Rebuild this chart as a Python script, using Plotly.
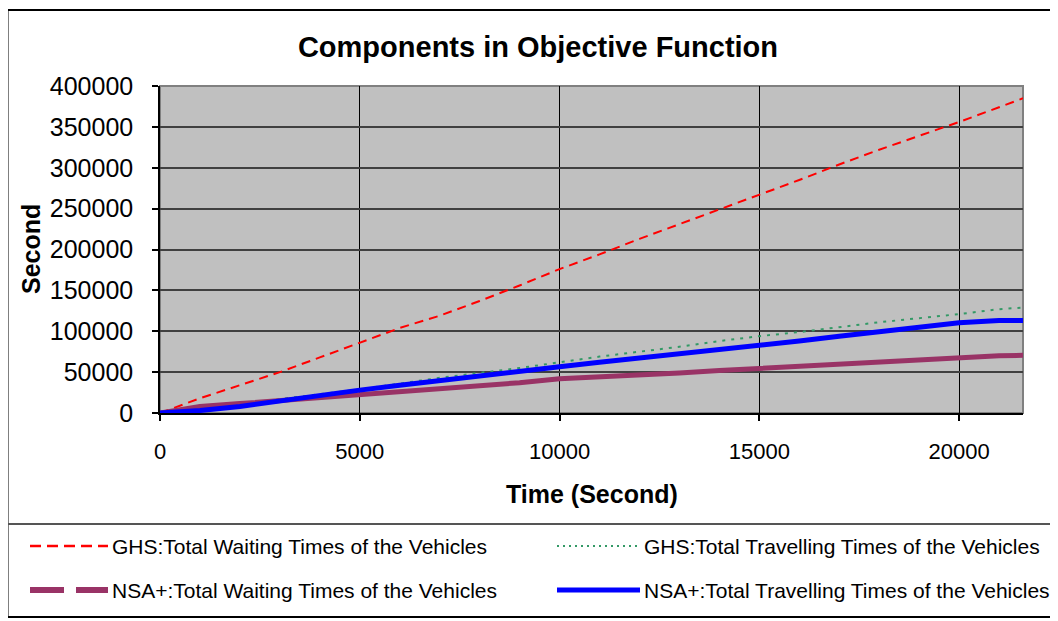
import plotly.graph_objects as go

# ---- data ----
time_s = [0, 1000, 2000, 3000, 4000, 5000, 6000, 7000, 8000, 9000, 10000, 11000,
          12000, 13000, 14000, 15000, 16000, 17000, 18000, 19000, 20000, 21000, 21600]
ghs_wait = [0, 18000, 34000, 50000, 68000, 86000, 104000, 119000, 137000, 156000, 176000,
            194000, 213000, 231000, 249000, 267000, 285000, 304000, 322000, 339000, 356000,
            374000, 385000]
ghs_travel = [0, 4000, 10000, 17000, 23000, 29000, 36000, 43000, 49000, 55000, 62000,
              69000, 75000, 81000, 88000, 94000, 99000, 105000, 111000, 116000, 121000,
              127000, 129000]
nsa_wait = [0, 8000, 11500, 15000, 18000, 22000, 26000, 30000, 33000, 37000, 42000,
            44000, 46500, 49000, 52000, 54600, 57000, 60000, 63000, 66000, 68000,
            70000, 70500]
nsa_travel = [0, 3000, 8000, 15000, 22000, 28000, 34000, 40000, 45000, 51000, 56600,
              62000, 67000, 72000, 78000, 83000, 88000, 94000, 100000, 105000, 110500,
              113000, 113000]

series_names = ["GHS:Total Waiting Times of the Vehicles",
                "GHS:Total Travelling Times of the Vehicles",
                "NSA+:Total Waiting Times of the Vehicles",
                "NSA+:Total Travelling Times of the Vehicles"]
x_ticks = [0, 5000, 10000, 15000, 20000]
y_ticks = [0, 50000, 100000, 150000, 200000, 250000, 300000, 350000, 400000]

# ---- layout geometry (page has an 8px body margin) ----
OFF = 8
W, H = 1050, 613
L, T = 160 - OFF, 86 - OFF
PW, PH = 863, 327
R, B = W - L - PW, H - T - PH

def px(xs):
    return (xs - OFF - L) / PW

def py(ys):
    return (T + PH - (ys - OFF)) / PH

FONT = "Arial, Liberation Sans, sans-serif"

styles = [
    dict(color="#FF0000", width=2, dash="9px,6px"),
    dict(color="#339966", width=2, dash="3px,6px"),
    dict(color="#993366", width=5, dash="solid"),
    dict(color="#0000FF", width=5, dash="solid"),
]
legend_styles = [
    dict(color="#FF0000", width=2.5, dash="11px,6px"),
    dict(color="#339966", width=2, dash="2px,4px"),
    dict(color="#993366", width=6, dash="34px,12px"),
    dict(color="#0000FF", width=5, dash="solid"),
]

fig = go.Figure()
for name, ys, st in zip(series_names, [ghs_wait, ghs_travel, nsa_wait, nsa_travel], styles):
    fig.add_trace(go.Scatter(x=time_s, y=ys, mode="lines", name=name, line=st,
                             showlegend=False))

shapes = []
# outer chart frame
shapes.append(dict(type="rect", xref="paper", yref="paper", x0=px(7.5), x1=px(1070),
                   y0=py(617), y1=py(10), line=dict(color="black", width=2), layer="below"))
# legend separator
shapes.append(dict(type="line", xref="paper", yref="paper", x0=px(7.5), x1=px(1070),
                   y0=py(524), y1=py(524), line=dict(color="#555555", width=2)))
# plot-area border (top/right gray)
shapes.append(dict(type="rect", xref="paper", yref="paper", x0=0, x1=1, y0=0, y1=1,
                   line=dict(color="#808080", width=2), layer="between"))

annotations = []
leg_pos = [(30, 108, 546), (557, 640, 546), (30, 108, 590), (557, 640, 590)]
for name, st, (x0, x1, yy) in zip(series_names, legend_styles, leg_pos):
    shapes.append(dict(type="line", xref="paper", yref="paper", x0=px(x0), x1=px(x1),
                       y0=py(yy), y1=py(yy), line=st))
    annotations.append(dict(text=name, xref="paper", yref="paper", x=px(x1 + 2), y=py(yy),
                            xanchor="left", yanchor="middle", showarrow=False,
                            font=dict(family=FONT, size=21, color="black")))

annotations.append(dict(text="<b>Second</b>", xref="paper", yref="paper", x=px(31), y=py(249),
                        textangle=-90, xanchor="center", yanchor="middle", showarrow=False,
                        font=dict(family=FONT, size=25, color="black")))
annotations.append(dict(text="<b>Time (Second)</b>", xref="paper", yref="paper", x=px(592),
                        y=py(494), xanchor="center", yanchor="middle", showarrow=False,
                        font=dict(family=FONT, size=25, color="black")))

fig.update_layout(
    width=W, height=H,
    margin=dict(l=L, r=R, t=T, b=B),
    paper_bgcolor="white",
    plot_bgcolor="#C0C0C0",
    title=dict(text="<b>Components in Objective Function</b>", x=(538 - OFF) / W,
               xanchor="center", y=1 - (47 - OFF) / H, yanchor="middle", yref="container",
               font=dict(family=FONT, size=29, color="black")),
    xaxis=dict(range=[0, 21600], tickvals=x_ticks, ticktext=[str(v) for v in x_ticks],
               showgrid=True, gridcolor="black", gridwidth=1,
               showline=True, linecolor="black", linewidth=1.5,
               ticks="outside", ticklen=6, tickcolor="black", tickwidth=1.5,
               ticklabelstandoff=12, zeroline=False,
               tickfont=dict(family=FONT, size=22, color="black")),
    yaxis=dict(range=[0, 400000], tickvals=y_ticks, ticktext=[str(v) for v in y_ticks],
               showgrid=True, gridcolor="#404040", gridwidth=1.5,
               showline=True, linecolor="black", linewidth=1.5,
               ticks="outside", ticklen=6, tickcolor="black", tickwidth=1.5,
               ticklabelstandoff=14, zeroline=False,
               tickfont=dict(family=FONT, size=25, color="black")),
    shapes=shapes,
    annotations=annotations,
    showlegend=False,
)

fig.write_html("out.html")
